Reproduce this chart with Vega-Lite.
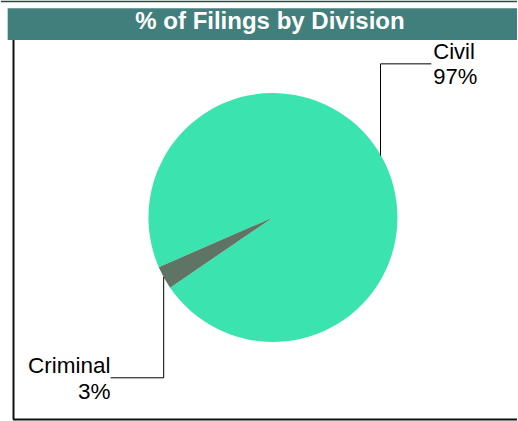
{
  "$schema": "https://vega.github.io/schema/vega-lite/v6.json",
  "width": 518,
  "height": 421,
  "autosize": {"type": "fit", "contains": "padding"},
  "padding": 0,
  "background": "white",
  "config": {"view": {"stroke": null}, "font": "Liberation Sans"},
  "datasets": {
    "slices": [
      {"division": "Civil", "pct": 97},
      {"division": "Criminal", "pct": 3}
    ],
    "leaders": [
      {"x": 0.8675, "y": 0.498, "x2": 0.8675, "y2": 1.2369},
      {"x": 0.8675, "y": 1.2369, "x2": 1.2771, "y2": 1.2369},
      {"x": -0.881, "y": -0.4795, "x2": -0.881, "y2": -1.2908},
      {"x": -0.881, "y": -1.2908, "x2": -1.309, "y2": -1.2908}
    ],
    "labelsLeft": [
      {"x": 1.293, "y": 1.273, "text": "Civil"},
      {"x": 1.293, "y": 1.072, "text": "97%"}
    ],
    "labelsRight": [
      {"x": -1.309, "y": -1.253, "text": "Criminal"},
      {"x": -1.309, "y": -1.462, "text": "3%"}
    ],
    "titleBar": [
      {"x": -2.139, "x2": 1.9679, "y": 1.684, "y2": 1.43, "text": "% of Filings by Division", "tx": -0.024, "ty": 1.518}
    ],
    "frame": [
      {"x": -2.092, "y": 1.43, "x2": -2.092, "y2": -1.6265},
      {"x": -2.096, "y": -1.6265, "x2": 1.9679, "y2": -1.6265}
    ],
    "topLine": [
      {"x": -2.1928, "y": 1.739, "x2": 1.9679, "y2": 1.739}
    ]
  },
  "layer": [
    {
      "data": {"name": "slices"},
      "mark": {"type": "arc", "outerRadius": 124.5},
      "encoding": {
        "x": {"datum": 0, "type": "quantitative", "scale": {"domain": [-2.1928, 1.9679], "nice": false, "zero": false}, "axis": null},
        "y": {"datum": 0, "type": "quantitative", "scale": {"domain": [-1.6386, 1.743], "nice": false, "zero": false}, "axis": null},
        "theta": {"field": "pct", "type": "quantitative", "stack": true, "scale": {"range": [4.3022, 10.5854]}},
        "color": {"field": "division", "type": "nominal", "scale": {"domain": ["Civil", "Criminal"], "range": ["#3be3af", "#5f7464"]}, "legend": null}
      }
    },
    {
      "data": {"name": "leaders"},
      "mark": {"type": "rule", "color": "#000000", "strokeWidth": 1},
      "encoding": {
        "x": {"field": "x", "type": "quantitative", "scale": {"domain": [-2.1928, 1.9679], "nice": false, "zero": false}, "axis": null},
        "y": {"field": "y", "type": "quantitative", "scale": {"domain": [-1.6386, 1.743], "nice": false, "zero": false}, "axis": null},
        "x2": {"field": "x2"},
        "y2": {"field": "y2"}
      }
    },
    {
      "data": {"name": "labelsLeft"},
      "mark": {"type": "text", "align": "left", "baseline": "alphabetic", "fontSize": 22, "color": "#000000"},
      "encoding": {
        "x": {"field": "x", "type": "quantitative", "scale": {"domain": [-2.1928, 1.9679], "nice": false, "zero": false}, "axis": null},
        "y": {"field": "y", "type": "quantitative", "scale": {"domain": [-1.6386, 1.743], "nice": false, "zero": false}, "axis": null},
        "text": {"field": "text"}
      }
    },
    {
      "data": {"name": "labelsRight"},
      "mark": {"type": "text", "align": "right", "baseline": "alphabetic", "fontSize": 22.5, "color": "#000000"},
      "encoding": {
        "x": {"field": "x", "type": "quantitative", "scale": {"domain": [-2.1928, 1.9679], "nice": false, "zero": false}, "axis": null},
        "y": {"field": "y", "type": "quantitative", "scale": {"domain": [-1.6386, 1.743], "nice": false, "zero": false}, "axis": null},
        "text": {"field": "text"}
      }
    },
    {
      "data": {"name": "titleBar"},
      "mark": {"type": "rect", "color": "#417f7c"},
      "encoding": {
        "x": {"field": "x", "type": "quantitative", "scale": {"domain": [-2.1928, 1.9679], "nice": false, "zero": false}, "axis": null},
        "x2": {"field": "x2"},
        "y": {"field": "y", "type": "quantitative", "scale": {"domain": [-1.6386, 1.743], "nice": false, "zero": false}, "axis": null},
        "y2": {"field": "y2"}
      }
    },
    {
      "data": {"name": "titleBar"},
      "mark": {"type": "text", "align": "center", "baseline": "alphabetic", "fontSize": 24, "fontWeight": "bold", "color": "#ffffff"},
      "encoding": {
        "x": {"field": "tx", "type": "quantitative", "scale": {"domain": [-2.1928, 1.9679], "nice": false, "zero": false}, "axis": null},
        "y": {"field": "ty", "type": "quantitative", "scale": {"domain": [-1.6386, 1.743], "nice": false, "zero": false}, "axis": null},
        "text": {"field": "text"}
      }
    },
    {
      "data": {"name": "frame"},
      "mark": {"type": "rule", "color": "#111111", "strokeWidth": 2},
      "encoding": {
        "x": {"field": "x", "type": "quantitative", "scale": {"domain": [-2.1928, 1.9679], "nice": false, "zero": false}, "axis": null},
        "y": {"field": "y", "type": "quantitative", "scale": {"domain": [-1.6386, 1.743], "nice": false, "zero": false}, "axis": null},
        "x2": {"field": "x2"},
        "y2": {"field": "y2"}
      }
    },
    {
      "data": {"name": "topLine"},
      "mark": {"type": "rule", "color": "#2d4a42", "strokeWidth": 1.5},
      "encoding": {
        "x": {"field": "x", "type": "quantitative", "scale": {"domain": [-2.1928, 1.9679], "nice": false, "zero": false}, "axis": null},
        "y": {"field": "y", "type": "quantitative", "scale": {"domain": [-1.6386, 1.743], "nice": false, "zero": false}, "axis": null},
        "x2": {"field": "x2"},
        "y2": {"field": "y2"}
      }
    }
  ]
}
